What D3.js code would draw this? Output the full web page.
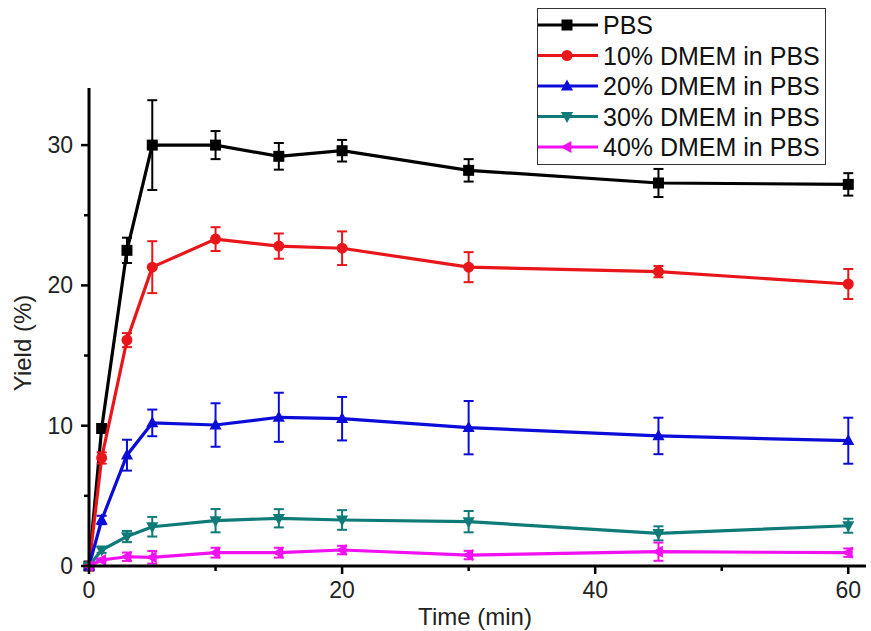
<!DOCTYPE html>
<html>
<head>
<meta charset="utf-8">
<script src="https://cdn.jsdelivr.net/npm/d3@7"></script>
<style>
  body { margin: 0; background: #fff; }
  svg { font-family: "Liberation Sans", Arial, sans-serif; }
</style>
</head>
<body>
<svg id="chart" width="871" height="631"></svg>
<script>
// sampling times (min)
const times = [0, 1, 3, 5, 10, 15, 20, 30, 45, 60];

// yield (%) and error bars
const pbs      = [0, 9.8, 22.5, 30.0, 30.0, 29.2, 29.6, 28.2, 27.3, 27.2];
const pbsErr   = [0, 0.3, 0.9, 3.2, 1.0, 0.95, 0.77, 0.8, 1.0, 0.8];
const dmem10    = [0, 7.7, 16.1, 21.3, 23.3, 22.8, 22.65, 21.3, 20.98, 20.1];
const dmem10Err = [0, 0.4, 0.5, 1.85, 0.85, 0.9, 1.2, 1.07, 0.4, 1.07];
const dmem20    = [0, 3.28, 7.9, 10.2, 10.05, 10.6, 10.5, 9.86, 9.27, 8.93];
const dmem20Err = [0, 0.3, 1.1, 0.95, 1.55, 1.75, 1.55, 1.9, 1.3, 1.64];
const dmem30    = [0, 1.14, 2.1, 2.8, 3.23, 3.4, 3.28, 3.16, 2.33, 2.87];
const dmem30Err = [0, 0.2, 0.4, 0.7, 0.83, 0.65, 0.7, 0.76, 0.5, 0.5];
const dmem40    = [0, 0.43, 0.66, 0.62, 0.95, 0.95, 1.14, 0.78, 1.02, 0.95];
const dmem40Err = [0, 0.1, 0.3, 0.45, 0.35, 0.35, 0.3, 0.3, 0.65, 0.3];

const seriesNames = ["PBS", "10% DMEM in PBS", "20% DMEM in PBS", "30% DMEM in PBS", "40% DMEM in PBS"];
const xTicks = [0, 20, 40, 60];
const xMinorTicks = [10, 30, 50];
const yTicks = [0, 10, 20, 30];
const yMinorTicks = [5, 15, 25];

const series = [
  { name: seriesNames[0], values: pbs,    err: pbsErr,    color: "#000000", shape: "square" },
  { name: seriesNames[1], values: dmem10, err: dmem10Err, color: "#e8161a", shape: "circle" },
  { name: seriesNames[2], values: dmem20, err: dmem20Err, color: "#0c0cd8", shape: "up" },
  { name: seriesNames[3], values: dmem30, err: dmem30Err, color: "#0f7b78", shape: "down" },
  { name: seriesNames[4], values: dmem40, err: dmem40Err, color: "#f010f0", shape: "left" }
];

const svg = d3.select("#chart");
const margin = { left: 89, right: 5, top: 88, bottom: 65 };
const width = 871, height = 631;

const x = d3.scaleLinear().domain([0, 61.4]).range([margin.left, width - margin.right]);
const y = d3.scaleLinear().domain([0, 34.07]).range([height - margin.bottom, margin.top]);

// marker shape helper
function markerPath(shape, s) {
  if (shape === "square") return `M${-s},${-s}H${s}V${s}H${-s}Z`;
  if (shape === "circle") return d3.symbol(d3.symbolCircle, Math.PI * s * s)();
  if (shape === "up") return `M0,${-s * 1.2}L${s * 1.1},${s * 0.8}L${-s * 1.1},${s * 0.8}Z`;
  if (shape === "down") return `M0,${s * 1.2}L${s * 1.1},${-s * 0.8}L${-s * 1.1},${-s * 0.8}Z`;
  if (shape === "left") return `M${-s * 1.2},0L${s * 0.8},${-s * 1.1}L${s * 0.8},${s * 1.1}Z`;
}

const line = d3.line().x((d, i) => x(times[i])).y(d => y(d));

series.forEach(s => {
  const g = svg.append("g");
  // error bars
  times.forEach((t, i) => {
    if (s.err[i] <= 0) return;
    const cx = x(t), y1 = y(s.values[i] - s.err[i]), y2 = y(s.values[i] + s.err[i]);
    g.append("line").attr("x1", cx).attr("x2", cx).attr("y1", y1).attr("y2", y2)
      .attr("stroke", s.color).attr("stroke-width", 2);
    [y1, y2].forEach(yy => g.append("line").attr("x1", cx - 5).attr("x2", cx + 5)
      .attr("y1", yy).attr("y2", yy).attr("stroke", s.color).attr("stroke-width", 2));
  });
  g.append("path").datum(s.values)
    .attr("fill", "none").attr("stroke", s.color).attr("stroke-width", 3.2)
    .attr("d", line);
  g.selectAll("path.m").data(s.values).enter().append("path")
    .attr("class", "m")
    .attr("transform", (d, i) => `translate(${x(times[i])},${y(d)})`)
    .attr("d", markerPath(s.shape, 5.5))
    .attr("fill", s.color);
});

// axes
const xAxis = svg.append("g").attr("transform", `translate(0,${height - margin.bottom})`);
xAxis.append("line").attr("x1", margin.left - 2).attr("x2", width - margin.right)
  .attr("stroke", "#000").attr("stroke-width", 3);
xAxis.selectAll("line.maj").data(xTicks).enter().append("line")
  .attr("x1", d => x(d)).attr("x2", d => x(d)).attr("y1", 0).attr("y2", 8)
  .attr("stroke", "#000").attr("stroke-width", 2.5);
xAxis.selectAll("line.min").data(xMinorTicks).enter().append("line")
  .attr("x1", d => x(d)).attr("x2", d => x(d)).attr("y1", 0).attr("y2", 5)
  .attr("stroke", "#000").attr("stroke-width", 2.5);
xAxis.selectAll("text").data(xTicks).enter().append("text")
  .attr("x", d => x(d)).attr("y", 32).attr("text-anchor", "middle")
  .attr("font-size", 23).attr("fill", "#222").text(d => d);

const yAxis = svg.append("g").attr("transform", `translate(${margin.left},0)`);
yAxis.append("line").attr("y1", margin.top).attr("y2", height - margin.bottom + 1)
  .attr("stroke", "#000").attr("stroke-width", 3);
yAxis.selectAll("line.maj").data(yTicks).enter().append("line")
  .attr("y1", d => y(d)).attr("y2", d => y(d)).attr("x1", 0).attr("x2", -8)
  .attr("stroke", "#000").attr("stroke-width", 2.5);
yAxis.selectAll("line.min").data(yMinorTicks).enter().append("line")
  .attr("y1", d => y(d)).attr("y2", d => y(d)).attr("x1", 0).attr("x2", -5)
  .attr("stroke", "#000").attr("stroke-width", 2.5);
yAxis.selectAll("text").data(yTicks).enter().append("text")
  .attr("x", -16).attr("y", d => y(d) + 8).attr("text-anchor", "end")
  .attr("font-size", 23).attr("fill", "#222").text(d => d);

// axis titles
svg.append("text").attr("x", 475).attr("y", 625).attr("text-anchor", "middle")
  .attr("font-size", 24).attr("fill", "#222").text("Time (min)");
svg.append("text").attr("transform", `translate(31,343) rotate(-90)`)
  .attr("text-anchor", "middle").attr("font-size", 24).attr("fill", "#222").text("Yield (%)");

// legend
const legend = svg.append("g");
legend.append("rect").attr("x", 537.5).attr("y", 8.5).attr("width", 288).attr("height", 156)
  .attr("fill", "#fff").attr("stroke", "#333").attr("stroke-width", 1);
series.forEach((s, i) => {
  const ly = 25 + i * 30.5;
  legend.append("line").attr("x1", 538).attr("x2", 598).attr("y1", ly).attr("y2", ly)
    .attr("stroke", s.color).attr("stroke-width", 3.2);
  legend.append("path").attr("transform", `translate(567,${ly})`)
    .attr("d", markerPath(s.shape, 5.5)).attr("fill", s.color);
  legend.append("text").attr("x", 603).attr("y", ly + 9)
    .attr("font-size", 25).attr("fill", "#111").text(s.name);
});
</script>
</body>
</html>
